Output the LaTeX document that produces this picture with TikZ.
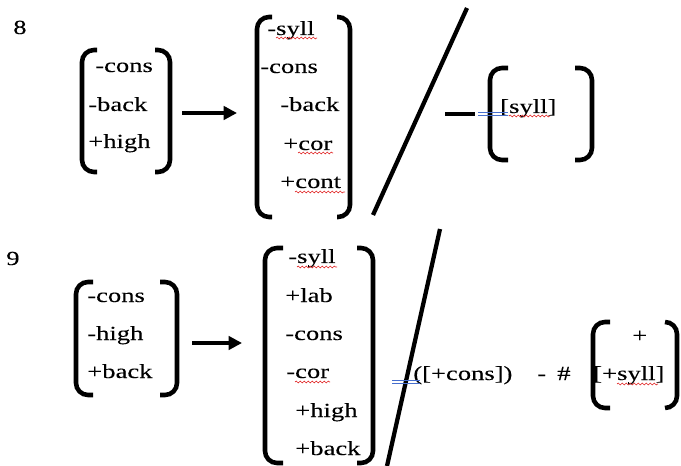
\documentclass[tikz,border=0pt]{standalone}
\usepackage{fontspec}
\setmainfont[FakeStretch=1.33,FakeBold=0.15]{Liberation Serif}
\usetikzlibrary{arrows.meta,decorations.pathmorphing}
\definecolor{spellred}{RGB}{225,45,45}
\definecolor{grammarblue}{RGB}{70,110,205}
\tikzset{
	feat/.style={anchor=base west, inner sep=0pt, font=\fontsize{15}{18}\selectfont},
	brak/.style={line width=3.4pt, rounded corners=9pt},
	rulearrow/.style={line width=2.8pt, -{Triangle[length=10pt,width=10pt]}},
	envslash/.style={line width=3.2pt},
	envdash/.style={line width=2.8pt},
	squiggle/.style={spellred, line width=0.5pt, decorate,
			decoration={snake, amplitude=0.7pt, segment length=3pt}},
	dblmark/.style={grammarblue, line width=0.6pt}
}

\begin{document}
\begin{tikzpicture}[x=0.75pt, y=-0.75pt]
	\useasboundingbox (0,0) rectangle (681,466);

	% Rule 8
	\node[feat] (num8) at (13,34) {8};

	% Draw the input matrix
	\draw[brak] (97,50) -- (82,50) -- (82,172) -- (97,172);
	\draw[brak] (155,50) -- (170,50) -- (170,172) -- (155,172);
	\node[feat] (ia1) at (95,72) {-cons};
	\node[feat] (ia2) at (88,111) {-back};
	\node[feat] (ia3) at (88,148) {+high};

	% Draw the arrow
	\coordinate (arrA1) at (182,113);
	\coordinate (arrA2) at (237,113);
	\draw[rulearrow] (arrA1) -- (arrA2);

	% Draw the output matrix
	\draw[brak] (272,17) -- (257,17) -- (257,217) -- (272,217);
	\draw[brak] (337,17) -- (350,17) -- (350,217) -- (337,217);
	\node[feat] (oa1) at (267,35) {-syll};
	\node[feat] (oa2) at (260,73) {-cons};
	\node[feat] (oa3) at (280,111) {-back};
	\node[feat] (oa4) at (283,150) {+cor};
	\node[feat] (oa5) at (280,188) {+cont};

	% Draw the environment slash and the blank
	\coordinate (slA1) at (373,215);
	\coordinate (slA2) at (467,8);
	\draw[envslash] (slA1) -- (slA2);
	\coordinate (dA1) at (445,114);
	\coordinate (dA2) at (475,114);
	\draw[envdash] (dA1) -- (dA2);

	% Draw the context matrix
	\draw[brak] (508,68) -- (490,68) -- (490,160) -- (508,160);
	\draw[brak] (575,68) -- (592,68) -- (592,160) -- (575,160);
	\node[feat] (ca1) at (500,113) {[syll]};

	% Rule 9
	\node[feat] (num9) at (6,265) {9};

	% Draw the input matrix
	\draw[brak] (93,282) -- (76,282) -- (76,395) -- (93,395);
	\draw[brak] (160,282) -- (177,282) -- (177,395) -- (160,395);
	\node[feat] (ib1) at (87,302) {-cons};
	\node[feat] (ib2) at (87,340) {-high};
	\node[feat] (ib3) at (87,378) {+back};

	% Draw the arrow
	\coordinate (arrB1) at (192,343);
	\coordinate (arrB2) at (242,343);
	\draw[rulearrow] (arrB1) -- (arrB2);

	% Draw the output matrix
	\draw[brak] (283,248) -- (265,248) -- (265,463) -- (283,463);
	\draw[brak] (357,248) -- (373,248) -- (373,463) -- (357,463);
	\node[feat] (ob1) at (288,263) {-syll};
	\node[feat] (ob2) at (285,302) {+lab};
	\node[feat] (ob3) at (285,340) {-cons};
	\node[feat] (ob4) at (286,378) {-cor};
	\node[feat] (ob5) at (295,417) {+high};
	\node[feat] (ob6) at (295,455) {+back};

	% Draw the environment slash and the context
	\coordinate (slB1) at (387,466);
	\coordinate (slB2) at (440,229);
	\draw[envslash] (slB1) -- (slB2);
	\node[feat] (cb1) at (413,380) {([+cons])};
	\node[feat] (cb2) at (537,380) {-};
	\node[feat] (cb3) at (557,380) {\#};

	% Draw the boundary matrix
	\draw[brak] (610,322) -- (593,322) -- (593,408) -- (610,408);
	\draw[brak] (665,322) -- (677,322) -- (677,408) -- (665,408);
	\node[feat] (cb4) at (632,342) {+};
	\node[feat] (cb5) at (593,380) {[+syll]};

	% Draw the editor marks
	\draw[dblmark] (478,112) -- (508,112) (478,115) -- (508,115);
	\draw[dblmark] (392,380) -- (420,380) (392,383) -- (420,383);
	\draw[squiggle] (276,38) -- (317,38);
	\draw[squiggle] (298,153) -- (333,153);
	\draw[squiggle] (295,192) -- (345,192);
	\draw[squiggle] (509,116) -- (550,116);
	\draw[squiggle] (297,267) -- (337,267);
	\draw[squiggle] (295,382) -- (330,382);
	\draw[squiggle] (617,384) -- (658,384);
\end{tikzpicture}
\end{document}
